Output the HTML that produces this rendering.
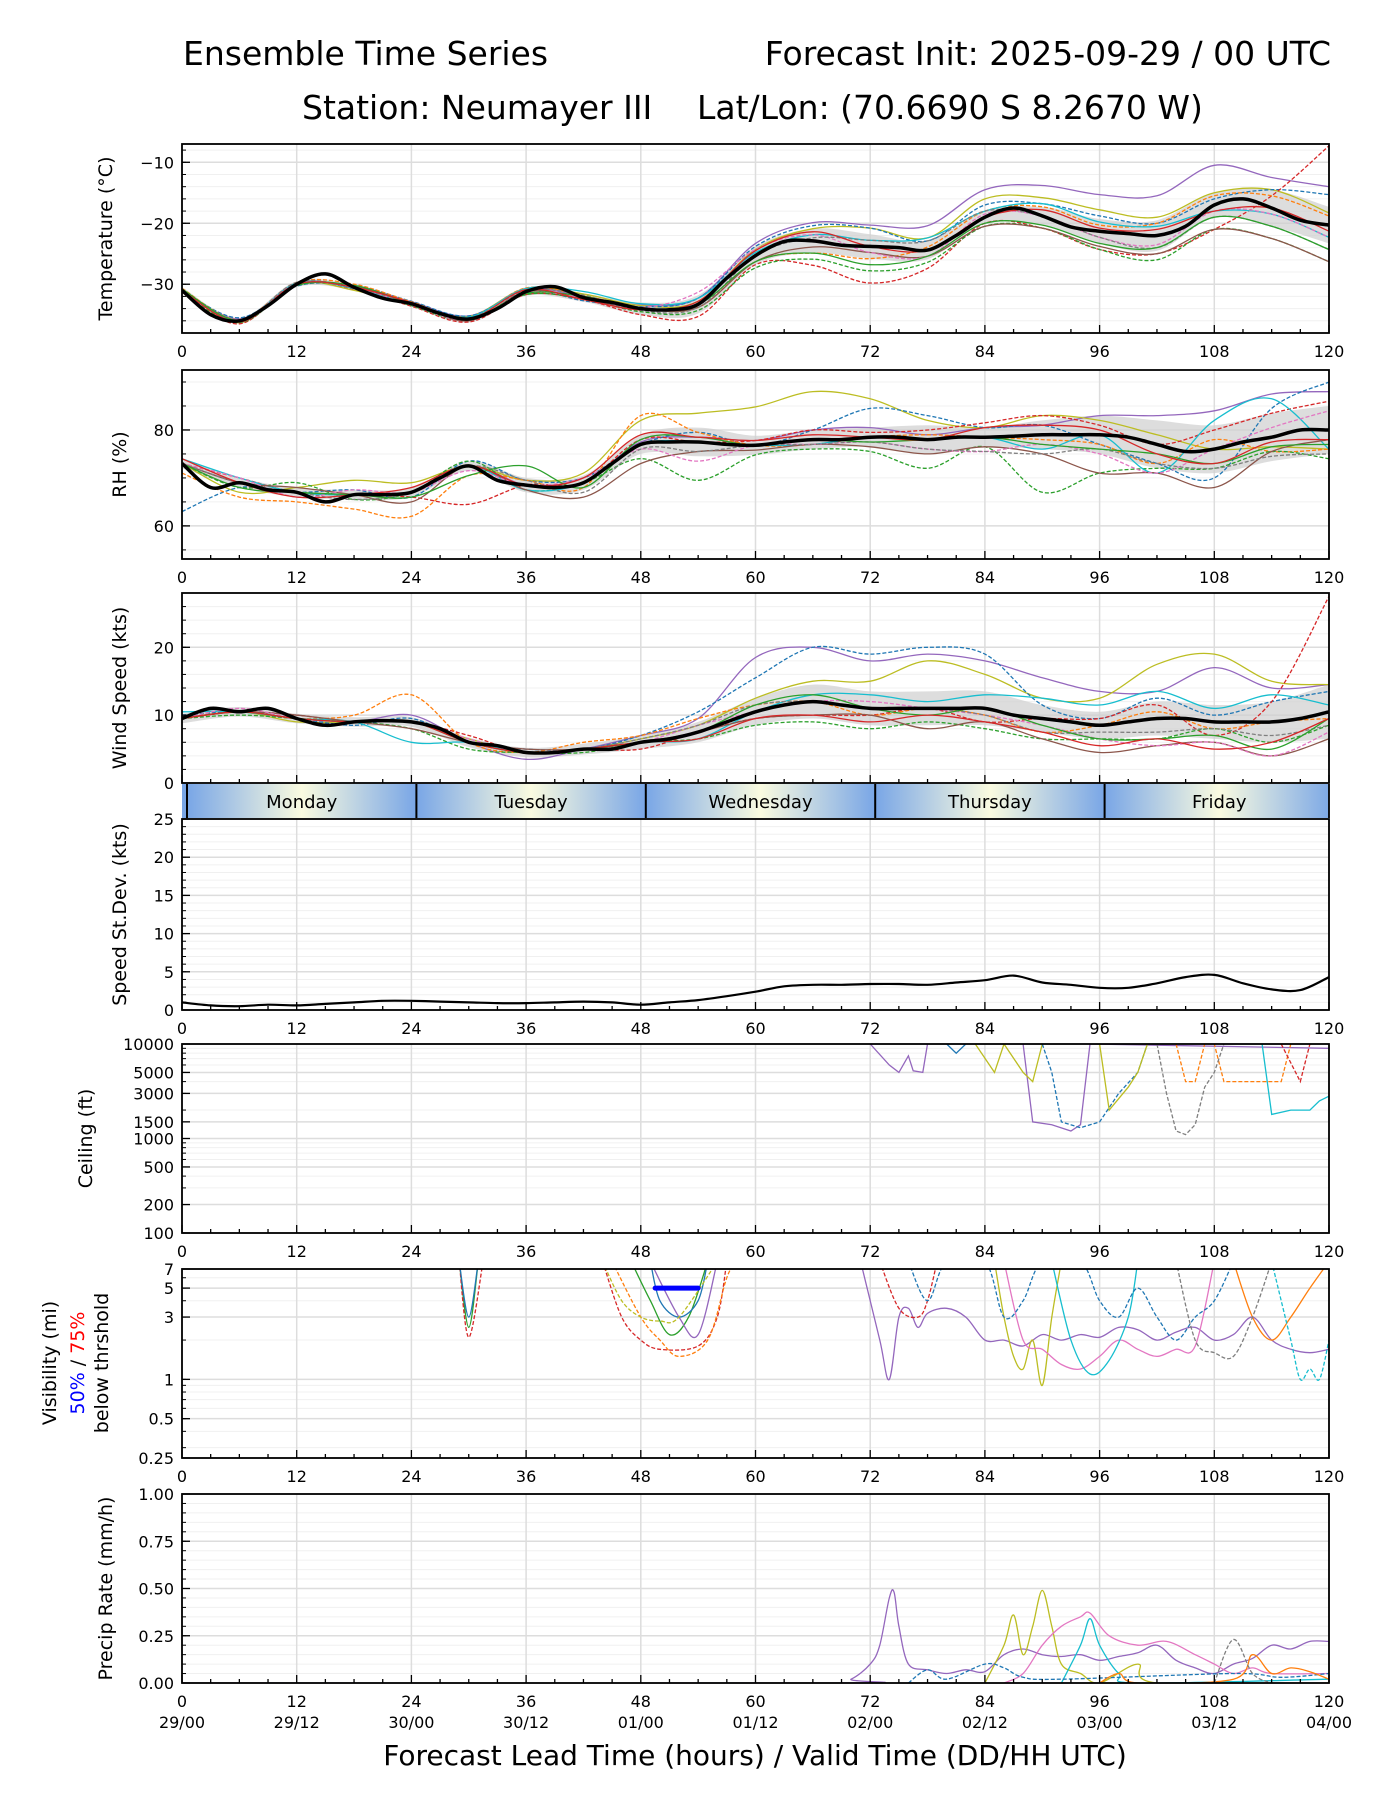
<!DOCTYPE html>
<html><head><meta charset="utf-8"><style>
html,body{margin:0;padding:0;background:#fff;}
svg{display:block;font-family:"DejaVu Sans","Liberation Sans",sans-serif;}
</style></head><body>
<svg id="chart" width="1400" height="1800" viewBox="0 0 1400 1800" xmlns="http://www.w3.org/2000/svg">
<defs>
<linearGradient id="dayGrad" x1="0" x2="1" y1="0" y2="0">
<stop offset="0" stop-color="#79a6e6"/><stop offset="0.5" stop-color="#fafbe0"/><stop offset="1" stop-color="#79a6e6"/>
</linearGradient>
<clipPath id="bandClip"><rect x="182" y="784" width="1147" height="34"/></clipPath>
</defs>
<text x="183" y="65" font-size="33">Ensemble Time Series</text>
<text x="1331" y="65" font-size="33" text-anchor="end">Forecast Init: 2025-09-29 / 00 UTC</text>
<text x="302" y="119" font-size="33">Station: Neumayer III</text>
<text x="697" y="119" font-size="33">Lat/Lon: (70.6690 S 8.2670 W)</text>
<g id="plots"></g>
</svg>
<script>
// ---------- data ----------
const hours3 = [0,3,6,9,12,15,18,21,24,27,30,33,36,39,42,45,48,51,54,57,60,63,66,69,72,75,78,81,84,87,90,93,96,99,102,105,108,111,114,117,120];
const hours6 = [0,6,12,18,24,30,36,42,48,54,60,66,72,78,84,90,96,102,108,114,120];
const tempMean = [-31,-35,-36,-33.5,-30,-28.3,-30.5,-32.3,-33.2,-34.8,-35.7,-34,-31.2,-30.4,-32.2,-33,-34,-34.2,-33.3,-29,-25.3,-23,-22.9,-23.6,-23.8,-24,-24.4,-22,-19,-17.5,-18.8,-20.6,-21.3,-21.7,-22,-20.5,-17,-16,-17.5,-19.5,-20.3];
const rhMean = [73,68,69,67.5,67,65,66.5,66.5,67,70,72.5,69.5,68.5,68,69,73,77,77.5,77.5,77,76.8,77.5,78,78,78.5,78.5,78,78.5,78.5,78.7,79,79,79,78.5,77,75.5,76,77.5,78.5,80,80];
const windMean = [9.5,11,10.5,11,9.5,8.5,9,9.2,9,8,6,5.5,4.5,4.5,5,5,6,6.5,7.5,9,10.5,11.5,12,11.5,11,11,11,11,11,10,9.5,9,8.5,9,9.5,9.5,9,9,9,9.5,10.5];
const stdevMean = [1,0.6,0.5,0.7,0.6,0.8,1,1.2,1.2,1.1,1,0.9,0.9,1,1.1,1,0.7,1,1.3,1.8,2.4,3.1,3.3,3.3,3.4,3.4,3.3,3.6,3.9,4.5,3.6,3.3,2.9,2.9,3.5,4.3,4.6,3.5,2.7,2.6,4.3];
const tempSpread = [0.5,0.5,0.5,0.5,0.5,0.6,0.7,0.7,1,1.5,1.5,2,2,1.5,1,1.5,2,2.5,2,3,3];
const rhSpread = [1,1,1,1,1,1,1.5,1.5,2,3,2,2,2,3,2,3,4,5,5,5,5];
const windSpread = [0.7,0.7,0.7,0.7,0.7,0.7,0.7,0.8,1,1.5,2,2.5,2.5,2.5,2.5,2,2,2.5,2.5,3,4];
const memberColors = ['#9467bd','#bcbd22','#1f77b4','#d62728','#ff7f0e','#2ca02c','#17becf','#8c564b','#e377c2','#7f7f7f','#2ca02c','#d62728'];
const memberDashed = [false,false,true,true,true,true,false,false,true,true,false,false];
const tempOff0=[0,0.3,0,0.2,0.3,0.5,0.4,0.2,0.6,1,2,3,3.5,4,4.5,5,6,6.5,6.5,5,6.3];
const tempOff1=[0.2,-0.3,0.1,-0.5,-0.2,0.4,0.5,0.6,0.5,0.5,1,2,3,2,3,3,3.5,3,2,3,2];
const tempOff2=[0,0.5,-0.3,0.3,0.4,0.5,0.2,-0.5,0.3,1,1.5,2.5,3,1.5,2,2,2.5,2,1,3,5];
const tempOff3=[-0.3,-0.5,0.2,-0.3,-0.4,-0.5,-0.5,-0.3,-1,-2,-1.5,-4,-6,-3,-1,-2,-3,-3,-4,2,13];
const tempOff4=[0.3,0.2,0.3,0.5,0.3,0.2,0.6,0.3,0.2,-0.5,-1,-2,-2,0.5,1,1.5,1,2,1.5,2,1.5];
const tempOff5=[-0.2,-0.3,-0.2,0,-0.3,-0.2,-0.5,-0.2,-0.5,-1,-2,-3,-4,-2,-1.5,-2,-3,-4,-4,-5,-6];
const tempOff6=[0,0,0.2,-0.2,0,0.3,0.5,1,0.8,1,0.5,1,1,2,1,2,1.5,1.5,-1,-1,-2];
const tempOff7=[0.1,-0.2,-0.1,0.2,0.1,-0.3,0,-0.2,0,-0.5,-1,-1,-1,-1,-1.5,-2,-2.5,-3,-4,-5,-6];
const tempOff8=[0,0.2,0,0,-0.2,-0.1,-0.2,0,0.2,2,1,1,-1,-1,0.5,0,-1,-1.5,-1,-1,-2];
const tempOff9=[-0.2,0,0.3,-0.1,0.1,0.2,0.2,0.4,-0.3,-0.5,0,0.5,1,1.5,1,0,-1,-2,-2,-3,-4];
const tempOff10=[0.2,0.1,-0.2,0.3,0,0,-0.3,0.2,0,0,-1,-2,-3,-1,-1,-1.5,-2,-2,-2,-3,-4];
const tempOff11=[0,-0.2,0,0,0.2,0,0.3,-0.3,-0.2,0.5,0.8,1.5,0,0,0,1,0.5,1,-1,0,-1];
const rhOff0=[0,0,0,0,0,0,0,0,0.5,1,1,2,2,1,2,2,4,6,8,9,8];
const rhOff1=[0,-2,1,3,2,0,1,2,5,6,8,10,8,4,2,4,3,2,0,-2,-4];
const rhOff2=[-10,-1,0,1,-1,1,1,1,0,2,0,2,6,5,2,2,-2,-4,-6,6,10];
const rhOff3=[0,1,0,0,-1,-8,0,0,1,0,1,2,1,2,3,4,2,0,4,5,6];
const rhOff4=[-2,-3,-2,-3,-5,-2,1,-1,6,2,0,-1,0,1,0,-1,-2,-4,2,-3,-4];
const rhOff5=[0,-1,2,-1,0,1,-1,0,-3,-8,-2,-2,-3,-6,-2,-12,-8,-5,-4,-3,-6];
const rhOff6=[1,1,0,0,0,0,-1,0,0,0,0,-1,0,0,0,-3,0,-6,6,8,-4];
const rhOff7=[0,0,1,0,-2,0,-1,-3,-4,-2,-1,-1,-2,-3,-2,-4,-8,-6,-8,-3,-2];
const rhOff8=[0,1,-1,1,0,-1,0,1,-1,-4,0,-1,-1,-2,-3,-2,-4,-6,0,2,4];
const rhOff9=[0,0,0,-1,0,0,1,-2,-1,-2,0,-1,-1,-2,-3,-4,-3,-4,-4,-4,-5];
const rhOff10=[0,-1,0,0,-1,-2,4,-1,1,1,0,0,-1,0,0,-2,-3,-2,-3,-2,-3];
const rhOff11=[1,0,-1,0,1,0,0,1,2,1,1,1,0,0,2,2,1,-2,-3,-1,-2];
const windOff0=[0,0,0,0,1,0,-1,0,1,2,8,8,7,8,7,6,5,4,8,5,4];
const windOff1=[0,0,-0.5,0,0,0.5,0,0,0.5,1,2,3,4,7,5,3,4,8,10,6,4];
const windOff2=[0.5,0,0,-0.5,0.5,0,0.5,0,1,3,5,8,8,9,8,2,1,3,1,3,3];
const windOff3=[0,0,0.5,0,0,1,0,0,-1,0,-1,-2,-1,0,-2,0,1,2,-2,3,17];
const windOff4=[0,0,0,1,4,0,0,1,1,2,1,0,-1,0,-1,-2,0,1,-1,0,-1];
const windOff5=[0,-0.5,0,0,-1,-1,0,-0.5,0,-1,-2,-3,-3,-2,-3,-3,-2,-3,-1,-3,-2];
const windOff6=[1,0,0,0,-3,0,0,0,0,-1,0,1,2,1,2,3,3,4,2,4,1];
const windOff7=[0,0,0.5,0,-1,0,0.5,0,0,0,-1,-2,-1,-3,-2,-3,-4,-4,-3,-5,-4];
const windOff8=[0,0.5,0,0,0,0.5,0,0,0,1,0,0,1,0,-1,-1,-2,-4,-3,-5,-3];
const windOff9=[0,0,0,0,0,0,0,0,0.5,1,1,0,0,0,-1,-2,-1,-2,-1,-2,-2];
const windOff10=[0,0,0,0,0,0,0,0,0,0,1,1,0,-1,0,-1,-2,-3,-2,-4,-1];
const windOff11=[0,0,0,0,0,0,0,0,0,-1,-1,-2,-2,-1,-2,-2,-3,-3,-4,-3,-1];
const ceilSeries = [
 {c:'#9467bd',d:false,p:[[72,10000],[74,6000],[75,5000],[76,7500],[76.5,5200],[77.5,5000],[78,10000]]},
 {c:'#9467bd',d:false,p:[[88,10000],[89,1500],[91,1400],[93,1200],[94,1400],[95,10000],[120,9000]]},
 {c:'#1f77b4',d:false,p:[[80,10000],[81,8000],[82,10000]]},
 {c:'#bcbd22',d:false,p:[[83,10000],[85,5000],[86,10000],[88,5000],[89,4000],[90,10000]]},
 {c:'#1f77b4',d:true,p:[[90,10000],[91,5000],[92,1500],[94,1300],[96,1500],[98,3000],[100,5000],[101,10000]]},
 {c:'#bcbd22',d:false,p:[[96,10000],[97,2000],[99,3500],[100,5000],[101,10000]]},
 {c:'#ff7f0e',d:true,p:[[104,10000],[105,4000],[106,4000],[107,10000],[108,10000],[109,4000],[115,4000],[116,10000]]},
 {c:'#7f7f7f',d:true,p:[[102,10000],[103,3000],[104,1200],[105,1100],[106,1400],[107,3500],[108,5000],[109,10000]]},
 {c:'#17becf',d:false,p:[[113,10000],[114,1800],[116,2000],[118,2000],[119,2500],[120,2800]]},
 {c:'#d62728',d:true,p:[[115,10000],[117,4000],[118,10000]]}
];
const visSeries = [
 {c:'#2ca02c',d:false,p:[[29,8],[30,2.5],[31,8]]},
 {c:'#d62728',d:true,p:[[29,8],[30,2.1],[31.5,8]]},
 {c:'#1f77b4',d:false,p:[[29,8],[30,3],[31,8]]},
 {c:'#d62728',d:true,p:[[44,8],[46,3],[48,2],[50,1.7],[54,1.8],[56,3],[57,8]]},
 {c:'#ff7f0e',d:true,p:[[45,8],[48,3],[50,2],[52,1.5],[55,2],[57,6],[58,8]]},
 {c:'#2ca02c',d:false,p:[[47,8],[49,4],[51,2.2],[53,3],[55,8]]},
 {c:'#9467bd',d:false,p:[[49,8],[52,3],[54,2.2],[56,8]]},
 {c:'#1f77b4',d:false,p:[[49,8],[50,4],[52,3],[54,4],[55,8]]},
 {c:'#bcbd22',d:true,p:[[44,8],[46,4],[48,3],[50,2.8],[52,3],[56,8]]},
 {c:'#9467bd',d:false,p:[[71,8],[73,2],[74,1],[75,3],[76,3.5],[77,2.5],[78,3.2],[80,3.5],[82,3],[84,2],[86,2],[88,1.8],[90,2.2],[92,2],[94,2.2],[96,2.1],[98,2.5],[100,2.4],[102,2],[104,2.3],[106,2.5],[108,2],[110,2.2],[112,3],[114,2],[116,1.7],[118,1.6],[120,1.7]]},
 {c:'#bcbd22',d:false,p:[[85,8],[86,3],[87,1.5],[88,1.2],[89,2],[90,0.9],[91,3],[92,8]]},
 {c:'#e377c2',d:false,p:[[86,8],[88,2],[90,1.7],[92,1.3],[94,1.2],[96,1.5],[98,2],[100,1.7],[102,1.5],[104,1.7],[106,1.8],[108,8]]},
 {c:'#17becf',d:false,p:[[91,8],[93,2],[95,1.1],[97,1.4],[99,3],[100,8]]},
 {c:'#d62728',d:true,p:[[73,8],[75,3.5],[77,3],[78,4],[79,8]]},
 {c:'#1f77b4',d:true,p:[[76,8],[78,4],[80,8],[84,8],[86,3],[88,4],[90,8],[94,8],[96,4],[98,3],[100,5],[102,3],[104,2],[106,3],[108,4],[110,8]]},
 {c:'#ff7f0e',d:false,p:[[110,8],[112,3],[114,2],[116,3],[118,5],[120,8]]},
 {c:'#17becf',d:true,p:[[114,8],[116,2],[117,1],[118,1.2],[119,1],[120,2]]},
 {c:'#7f7f7f',d:true,p:[[104,8],[106,2],[108,1.6],[110,1.5],[112,3],[114,8]]}
];
const visBarHours = [49.5,54];
const visBarValue = 5;
const precipSeries = [
 {c:'#9467bd',d:false,p:[[0,0],[68,0],[70,0.02],[72,0.1],[73,0.2],[74,0.45],[74.5,0.48],[75,0.3],[76,0.1],[78,0.07],[80,0.05],[82,0.07],[84,0.06],[86,0.15],[88,0.18],[90,0.15],[92,0.14],[94,0.15],[96,0.12],[98,0.14],[100,0.16],[102,0.2],[104,0.12],[106,0.08],[108,0.05],[110,0.1],[112,0.13],[114,0.2],[116,0.18],[118,0.22],[120,0.22]]},
 {c:'#bcbd22',d:false,p:[[84,0],[86,0.2],[87,0.36],[88,0.15],[89,0.3],[90,0.49],[91,0.3],[92,0.1],[94,0.05],[96,0],[100,0.1],[102,0],[120,0]]},
 {c:'#e377c2',d:false,p:[[86,0],[88,0.05],[90,0.2],[92,0.3],[94,0.35],[95,0.37],[97,0.25],[100,0.2],[103,0.22],[106,0.15],[108,0.1],[110,0.05],[112,0.08],[114,0.05],[120,0.05]]},
 {c:'#17becf',d:false,p:[[92,0],[94,0.2],[95,0.34],[96,0.2],[98,0.05],[100,0],[120,0.02]]},
 {c:'#1f77b4',d:true,p:[[76,0],[78,0.07],[80,0.02],[84,0.1],[86,0.08],[88,0.03],[92,0.02],[110,0.05],[115,0.03],[120,0.05]]},
 {c:'#ff7f0e',d:false,p:[[96,0],[98,0.05],[100,0],[110,0.02],[112,0.15],[114,0.05],[116,0.08],[118,0.06],[120,0.02]]},
 {c:'#7f7f7f',d:true,p:[[108,0],[110,0.23],[112,0.05],[114,0]]}
];
const xTickHours = [0,12,24,36,48,60,72,84,96,108,120];
const dateLabels = ['29/00','29/12','30/00','30/12','01/00','01/12','02/00','02/12','03/00','03/12','04/00'];
const dayNames = ['Monday','Tuesday','Wednesday','Thursday','Friday'];
const tempTicks = [-10,-20,-30], tempTickLabels = ['\u221210','\u221220','\u221230'];
const rhTicks = [60,80];
const windTicks = [0,10,20];
const stdevTicks = [0,5,10,15,20,25];
const ceilTicks = [100,200,500,1000,1500,3000,5000,10000];
const visTicks = [0.25,0.5,1,3,5,7];
const precipTicks = [0,0.25,0.5,0.75,1], precipTickLabels=['0.00','0.25','0.50','0.75','1.00'];

// ---------- drawing ----------
const NS='http://www.w3.org/2000/svg';
const root=document.getElementById('plots');
const X0=182, X1=1329;
const xS=h=>X0+h*(X1-X0)/120;
function mk(tag,attrs,parent){const e=document.createElementNS(NS,tag);for(const k in attrs)e.setAttribute(k,attrs[k]);(parent||root).appendChild(e);return e;}
function smooth(pts){let d='M'+pts[0][0].toFixed(1)+','+pts[0][1].toFixed(1);
 for(let i=0;i<pts.length-1;i++){const p0=pts[Math.max(0,i-1)],p1=pts[i],p2=pts[i+1],p3=pts[Math.min(pts.length-1,i+2)];
  const c1=[p1[0]+(p2[0]-p0[0])/6,p1[1]+(p2[1]-p0[1])/6],c2=[p2[0]-(p3[0]-p1[0])/6,p2[1]-(p3[1]-p1[1])/6];
  d+='C'+c1[0].toFixed(1)+','+c1[1].toFixed(1)+' '+c2[0].toFixed(1)+','+c2[1].toFixed(1)+' '+p2[0].toFixed(1)+','+p2[1].toFixed(1);}
 return d;}
function linear(pts){return pts.map((p,i)=>(i?'L':'M')+p[0].toFixed(1)+','+p[1].toFixed(1)).join('');}
let clipId=0;
function panel(name,top,h,yS,ticks,labels,minor,ylabel,opt){
 opt=opt||{};
 const g=mk('g',{});
 
 
 const bot=top+h;
 mk('rect',{x:X0,y:top,width:X1-X0,height:h,fill:'#fff'},g);
 minor.forEach(v=>{const y=yS(v);if(y>top&&y<bot)mk('line',{x1:X0,x2:X1,y1:y,y2:y,stroke:'#f0f0f0','stroke-width':1},g);});
 ticks.forEach(v=>{const y=yS(v);mk('line',{x1:X0,x2:X1,y1:y,y2:y,stroke:'#dddddd','stroke-width':1.5},g);});
 xTickHours.forEach(hh=>mk('line',{x1:xS(hh),x2:xS(hh),y1:top,y2:bot,stroke:'#dddddd','stroke-width':1.5},g));
 const cid='clip'+(clipId++);
 const cp=mk('clipPath',{id:cid},g);mk('rect',{x:X0,y:top,width:X1-X0,height:h},cp);
 const plot=mk('g',{'clip-path':'url(#'+cid+')'},g);
 for(let hh=0;hh<=120;hh+=3){const x=xS(hh),L=hh%12===0?8:4;mk('line',{x1:x,x2:x,y1:bot,y2:bot-L,stroke:'#000','stroke-width':1.3},g);}
 minor.forEach(v=>{const y=yS(v);if(y>=top&&y<=bot)mk('line',{x1:X0,x2:X0+4,y1:y,y2:y,stroke:'#000','stroke-width':1},g);});
 ticks.forEach((v,i)=>{const y=yS(v);mk('line',{x1:X0,x2:X0+8,y1:y,y2:y,stroke:'#000','stroke-width':1.3},g);
  const t=mk('text',{x:X0-8,y:y+6,'font-size':16,'text-anchor':'end'},g);t.textContent=labels[i];
  
  });
 if(!opt.noX){xTickHours.forEach(hh=>{const t=mk('text',{x:xS(hh),y:bot+24,'font-size':16,'text-anchor':'middle'},g);t.textContent=hh;
  
  });}
 if(ylabel){const t=mk('text',{x:0,y:0,'font-size':19,'text-anchor':'middle',transform:'translate('+(opt.lx||112)+','+(top+h/2)+') rotate(-90)'},g);t.textContent=ylabel;
  
  }
 g._frame=()=>mk('rect',{x:X0,y:top,width:X1-X0,height:h,fill:'none',stroke:'#000','stroke-width':1.8},g);
 g.plot=plot;return g;}
function lin(lo,hi,top,h){return v=>top+h-(v-lo)/(hi-lo)*h;}
function logS(lo,hi,top,h){return v=>top+h-(Math.log10(v)-Math.log10(lo))/(Math.log10(hi)-Math.log10(lo))*h;}
function range(a,b,s){const r=[];for(let v=a;v<=b+1e-9;v+=s)r.push(+v.toFixed(4));return r;}
function logMinor(lo,hi){const r=[];for(let d=Math.floor(Math.log10(lo));d<=Math.ceil(Math.log10(hi));d++)for(let m=1;m<10;m++){const v=m*Math.pow(10,d);if(v>=lo&&v<=hi)r.push(v);}return r;}
function ensemble(g,name,yS,mean,spread,offs){
 const up=spread.map((s,i)=>[xS(hours6[i]),yS(mean[2*i]+s)]);
 const dn=spread.map((s,i)=>[xS(hours6[i]),yS(mean[2*i]-s)]).reverse();
 const band=mk('path',{d:smooth(up)+'L'+dn[0][0]+','+dn[0][1]+smooth(dn).slice(1).replace(/^[^C]*/,'')+'Z',fill:'#cfcfcf','fill-opacity':0.7,stroke:'none'},g.plot);
 
 
 offs.forEach((off,m)=>{const pts=off.map((o,i)=>[xS(hours6[i]),yS(mean[2*i]+o)]);
  const p=mk('path',{d:smooth(pts),fill:'none',stroke:memberColors[m],'stroke-width':1.3,'stroke-dasharray':memberDashed[m]?'4,2':'none'},g.plot);
  
  });
 const mp=mk('path',{d:smooth(mean.map((v,i)=>[xS(hours3[i]),yS(v)])),fill:'none',stroke:'#000','stroke-width':3.5},g.plot);
 
 
 g._frame();}
function seriesDraw(g,name,yS,series,sm){series.forEach(s=>{const pts=s.p.map(q=>[xS(q[0]),yS(q[1])]);
 const p=mk('path',{d:sm?smooth(pts):linear(pts),fill:'none',stroke:s.c,'stroke-width':1.3,'stroke-dasharray':s.d?'4,2':'none'},g.plot);
 
 });}

// Temperature
let ys=lin(-38,-7,144,189);
let g=panel('temperature',144,189,ys,tempTicks,tempTickLabels,range(-38,-8,2),'Temperature (°C)',{lx:112});
ensemble(g,'temperature',ys,tempMean,tempSpread,[tempOff0,tempOff1,tempOff2,tempOff3,tempOff4,tempOff5,tempOff6,tempOff7,tempOff8,tempOff9,tempOff10,tempOff11]);
// RH
ys=lin(53.1,92.5,370,189);
g=panel('rh',370,189,ys,rhTicks,rhTicks.map(String),range(55,90,5),'RH (%)',{lx:126});
ensemble(g,'rh',ys,rhMean,rhSpread,[rhOff0,rhOff1,rhOff2,rhOff3,rhOff4,rhOff5,rhOff6,rhOff7,rhOff8,rhOff9,rhOff10,rhOff11]);
// Wind
ys=lin(0,28,593,190);
g=panel('wind-speed',593,190,ys,windTicks,windTicks.map(String),range(0,28,2),'Wind Speed (kts)',{noX:true,lx:126});
ensemble(g,'wind-speed',ys,windMean,windSpread,[windOff0,windOff1,windOff2,windOff3,windOff4,windOff5,windOff6,windOff7,windOff8,windOff9,windOff10,windOff11]);
// Day band
const db=mk('g',{'clip-path':'url(#bandClip)'});


mk('rect',{x:X0,y:784,width:X1-X0,height:34,fill:'#79a6e6'},db);
dayNames.forEach((n,i)=>{const xa=xS(i*24)+5,xb=xS(i*24+24)+5;
 const r=mk('rect',{x:xa,y:784,width:xb-xa,height:34,fill:'url(#dayGrad)'},db);
 
 
 mk('line',{x1:xa,x2:xa,y1:784,y2:818,stroke:'#000','stroke-width':2},db);
 const t=mk('text',{x:(xa+xb)/2,y:808,'font-size':18,'text-anchor':'middle'},db);t.textContent=n;
 
 });
mk('line',{x1:X1,x2:X1,y1:784,y2:818,stroke:'#000','stroke-width':1.8});
// StDev
ys=lin(0,25,819,191);
g=panel('speed-stdev',819,191,ys,stdevTicks,stdevTicks.map(String),range(0,25,1),'Speed St.Dev. (kts)',{lx:126});
{const p=mk('path',{d:smooth(stdevMean.map((v,i)=>[xS(hours3[i]),ys(v)])),fill:'none',stroke:'#000','stroke-width':2.2},g.plot);
 
 }
g._frame();
// Ceiling
ys=logS(100,10000,1044,189);
g=panel('ceiling',1044,189,ys,ceilTicks,ceilTicks.map(String),logMinor(100,10000),'Ceiling (ft)',{lx:92});
seriesDraw(g,'ceiling',ys,ceilSeries,false);g._frame();
// Visibility
ys=logS(0.25,7,1269,189);
g=panel('visibility',1269,189,ys,visTicks,visTicks.map(String),logMinor(0.25,7),'',{});
seriesDraw(g,'visibility',ys,visSeries,true);
{const b=mk('line',{x1:xS(visBarHours[0]),x2:xS(visBarHours[1]),y1:ys(visBarValue),y2:ys(visBarValue),stroke:'#0000ff','stroke-width':5,'stroke-linecap':'round'},g.plot);
 
 }
g._frame();
{const tl=mk('text',{x:0,y:0,'font-size':19,'text-anchor':'middle',transform:'translate(56,1363) rotate(-90)'});tl.textContent='Visibility (mi)';
 
 
 const t2=mk('text',{x:0,y:0,'font-size':19,'text-anchor':'middle',transform:'translate(84,1363) rotate(-90)'});
 
 
 const a=mk('tspan',{fill:'#0000ff'},t2);a.textContent='50%';const b2=mk('tspan',{fill:'#000'},t2);b2.textContent=' / ';const c=mk('tspan',{fill:'#ff0000'},t2);c.textContent='75%';
 const t3=mk('text',{x:0,y:0,'font-size':19,'text-anchor':'middle',transform:'translate(108,1363) rotate(-90)'});t3.textContent='below thrshold';
 
 }
// Precip
ys=lin(0,1,1494,189);
g=panel('precip-rate',1494,189,ys,precipTicks,precipTickLabels,range(0,1,0.05),'Precip Rate (mm/h)',{lx:112});
seriesDraw(g,'precip-rate',ys,precipSeries,true);g._frame();
dateLabels.forEach((d,i)=>{const t=mk('text',{x:xS(xTickHours[i]),y:1728,'font-size':16,'text-anchor':'middle'});t.textContent=d;
 
 });
{const t=mk('text',{x:755,y:1765,'font-size':28,'text-anchor':'middle'});t.textContent='Forecast Lead Time (hours) / Valid Time (DD/HH UTC)';
 
 }
</script>
</body></html>
